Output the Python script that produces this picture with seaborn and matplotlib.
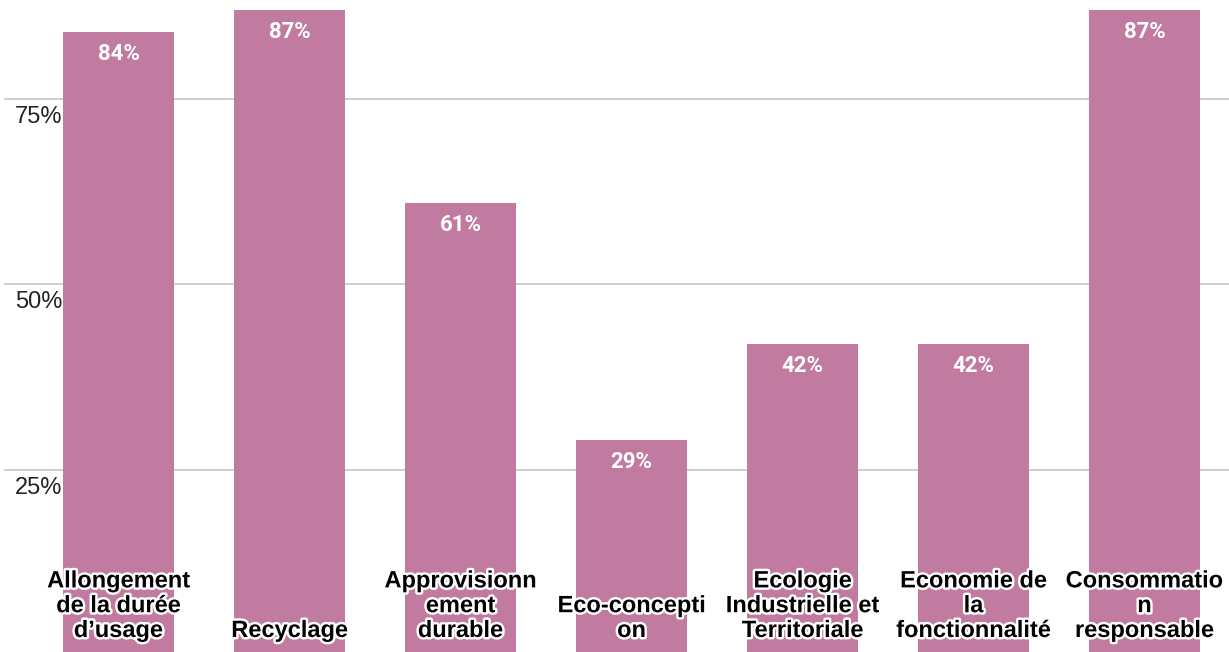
import matplotlib
matplotlib.use("Agg")
import matplotlib.pyplot as plt
import matplotlib.patheffects as pe
import seaborn as sns
import pandas as pd

categories = [
    "Allongement\nde la durée\nd\u2019usage",
    "Recyclage",
    "Approvisionn\nement\ndurable",
    "Eco-concepti\non",
    "Ecologie\nIndustrielle et\nTerritoriale",
    "Economie de\nla\nfonctionnalité",
    "Consommatio\nn\nresponsable",
]
values = [84, 87, 61, 29, 42, 42, 87]
value_labels = ["84%", "87%", "61%", "29%", "42%", "42%", "87%"]
y_ticks = [25, 50, 75]
y_tick_labels = ["25%", "50%", "75%"]

bar_color = "#c27ba0"

sns.set_theme(style="white")
plt.rcParams["font.family"] = ["Liberation Sans", "DejaVu Sans"]

W, H = 1229, 652
fig = plt.figure(figsize=(W / 100, H / 100), dpi=100)
ax = fig.add_axes([4 / W, -3.5 / H, 1225 / W, 655.5 / H])

df = pd.DataFrame({"cat": categories, "val": values})
sns.barplot(data=df, x="cat", y="val", color=bar_color, saturation=1,
            width=0.65, ax=ax, zorder=2, linewidth=0)

ax.set_xlim(-0.67, 6.494)
ax.set_ylim(0, 88.34)
ax.set_yticks(y_ticks)
ax.set_yticklabels([])
ax.set_xticks([])
ax.set_xlabel("")
ax.set_ylabel("")
ax.tick_params(length=0)
ax.grid(axis="y", color="#cccccc", linewidth=1.3, zorder=0)
ax.set_axisbelow(True)
for s in ax.spines.values():
    s.set_visible(False)

# y tick labels drawn inside plot area
for t, lab in zip(y_ticks, y_tick_labels):
    ax.annotate(lab, xy=(0, t), xycoords=ax.get_yaxis_transform(),
                xytext=(58 / 1.389, -7 / 1.389), textcoords="offset points",
                ha="right", va="top", fontsize=17, color="#222222", zorder=5)

# value labels
for i, (v, lab) in enumerate(zip(values, value_labels)):
    ax.annotate(lab, xy=(i, v), xytext=(0, -22 / 1.389), textcoords="offset points",
                ha="center", va="center", fontsize=16, fontweight="bold",
                color="white", family=["Roboto", "DejaVu Sans"], zorder=5)

# category labels at bottom inside bars
ybase = (655.5 - 637) / 655.5
for i, c in enumerate(categories):
    ax.text(i, ybase, c, transform=ax.get_xaxis_transform(), ha="center",
            va="baseline", multialignment="center", fontsize=17, fontweight="bold",
            color="black", linespacing=1.1, zorder=6,
            path_effects=[pe.withStroke(linewidth=3.5, foreground="white")])

fig.savefig("out.png", dpi=100)
